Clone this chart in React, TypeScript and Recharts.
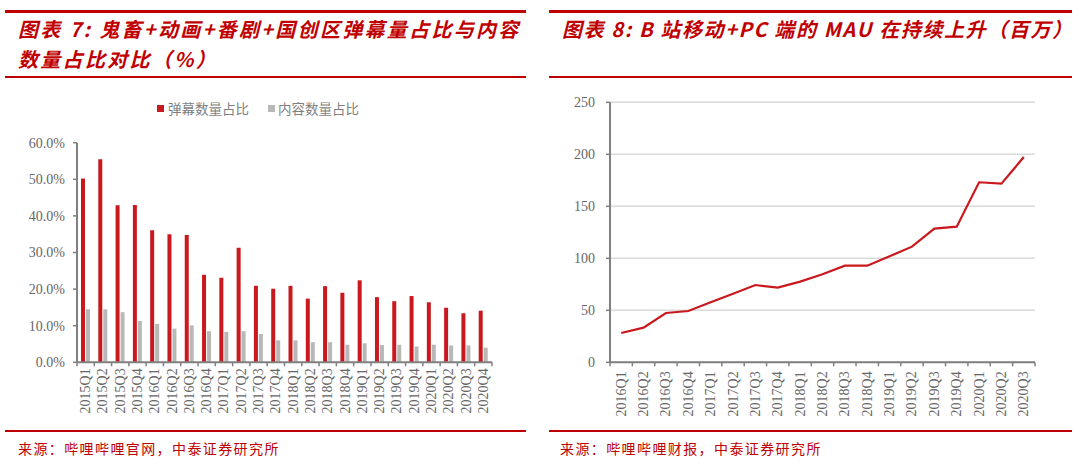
import React from 'react';
import {
  BarChart, Bar, LineChart, Line, XAxis, YAxis, CartesianGrid, Legend,
} from 'recharts';

// ---------- data ----------
const QUARTERS_L = [
  '2015Q1', '2015Q2', '2015Q3', '2015Q4',
  '2016Q1', '2016Q2', '2016Q3', '2016Q4',
  '2017Q1', '2017Q2', '2017Q3', '2017Q4',
  '2018Q1', '2018Q2', '2018Q3', '2018Q4',
  '2019Q1', '2019Q2', '2019Q3', '2019Q4',
  '2020Q1', '2020Q2', '2020Q3', '2020Q4',
];
const DANMU_SHARE = [
  50.2, 55.5, 42.9, 43.0, 36.1, 35.0, 34.8, 23.9,
  23.1, 31.3, 20.9, 20.1, 20.9, 17.4, 20.8, 19.0,
  22.4, 17.8, 16.7, 18.1, 16.4, 14.9, 13.4, 14.1,
];
const CONTENT_SHARE = [
  14.5, 14.5, 13.7, 11.3, 10.5, 9.2, 10.1, 8.5,
  8.3, 8.5, 7.7, 6.0, 6.0, 5.5, 5.5, 4.8,
  5.2, 4.7, 4.8, 4.3, 4.8, 4.6, 4.6, 4.0,
];
const Y_TICKS_L = [0, 10, 20, 30, 40, 50, 60];
const SERIES_L = ['弹幕数量占比', '内容数量占比'];

const QUARTERS_R = [
  '2016Q1', '2016Q2', '2016Q3', '2016Q4',
  '2017Q1', '2017Q2', '2017Q3', '2017Q4',
  '2018Q1', '2018Q2', '2018Q3', '2018Q4',
  '2019Q1', '2019Q2', '2019Q3', '2019Q4',
  '2020Q1', '2020Q2', '2020Q3',
];
const MAU = [
  28.2, 33.3, 47.4, 49.3, 57.7, 66.0, 74.3, 71.8,
  77.6, 84.6, 92.9, 92.9, 101.9, 111.2, 128.5, 130.4,
  173.1, 171.8, 197.4,
];
const Y_TICKS_R = [0, 50, 100, 150, 200, 250];

const TITLE_L1 = '图表 7: 鬼畜+动画+番剧+国创区弹幕量占比与内容';
const TITLE_L2 = '数量占比对比（%）';
const TITLE_R = '图表 8: B 站移动+PC 端的 MAU 在持续上升（百万）';
const SOURCE_L = '来源：哔哩哔哩官网，中泰证券研究所';
const SOURCE_R = '来源：哔哩哔哩财报，中泰证券研究所';

// ---------- styles ----------
const RED = '#C00000';
const BAR_RED = '#C9191E';
const BAR_GRAY = '#B8B8B8';
const AXIS = '#808080';
const LABEL = '#666666';
const SERIF = '"Liberation Serif", "DejaVu Serif", serif';
const CJK = '"Noto Sans CJK SC", "Noto Sans", sans-serif';

const leftData = QUARTERS_L.map((q, i) => ({ q, danmu: DANMU_SHARE[i], content: CONTENT_SHARE[i] }));
const rightData = QUARTERS_R.map((q, i) => ({ q, mau: MAU[i] }));

const CatTick = (props: any) => {
  const { x, y, payload, count, gap } = props;
  let off = payload && payload.offset ? payload.offset : 0;
  if (!off && props.width) off = props.width / count / 2;
  const idx = props.index != null ? props.index : payload.index;
  return (
    <g>
      <line x1={x - off} y1={y} x2={x - off} y2={y + 4} stroke={AXIS} strokeWidth={1.5} />
      {idx === count - 1 && (
        <line x1={x + off} y1={y} x2={x + off} y2={y + 4} stroke={AXIS} strokeWidth={1.5} />
      )}
      <text
        x={0}
        y={0}
        transform={`translate(${x},${y + gap}) rotate(-90)`}
        textAnchor="end"
        dominantBaseline="central"
        fontFamily={SERIF}
        fontSize={14}
        fill={LABEL}
      >
        {payload.value}
      </text>
    </g>
  );
};

const LegendContent = () => (
  <div style={{ display: 'flex', alignItems: 'center', fontFamily: CJK, fontSize: 13.5, color: '#7F7F7F' }}>
    <span style={{ width: 7, height: 7, background: BAR_RED, display: 'inline-block', marginRight: 4 }} />
    <span style={{ marginRight: 19 }}>{SERIES_L[0]}</span>
    <span style={{ width: 7, height: 7, background: BAR_GRAY, display: 'inline-block', marginRight: 3 }} />
    <span>{SERIES_L[1]}</span>
  </div>
);

const titleStyle: React.CSSProperties = {
  position: 'absolute',
  fontFamily: CJK,
  fontWeight: 700,
  fontStyle: 'italic',
  fontSize: 20,
  letterSpacing: 1.6,
  color: RED,
  whiteSpace: 'nowrap',
  lineHeight: '20px',
};
const sourceStyle: React.CSSProperties = {
  position: 'absolute',
  fontFamily: CJK,
  fontSize: 14,
  letterSpacing: 1.4,
  color: RED,
  whiteSpace: 'nowrap',
  lineHeight: '14px',
};

const Rule = ({ x, y, w, h }: { x: number; y: number; w: number; h: number }) => (
  <div style={{ position: 'absolute', left: x, top: y, width: w, height: h, background: RED }} />
);

export default function App() {
  return (
    <div style={{ position: 'absolute', left: 0, top: 0, width: 1080, height: 468, background: '#fff', overflow: 'hidden' }}>
      {/* ---------- left panel ---------- */}
      <Rule x={5} y={10} w={521} h={3} />
      <div style={{ ...titleStyle, left: 18, top: 19, letterSpacing: 2.3 }}>{TITLE_L1}</div>
      <div style={{ ...titleStyle, left: 18, top: 49, letterSpacing: 2.3 }}>{TITLE_L2}</div>
      <Rule x={5} y={76} w={521} h={1.5} />
      <div style={{ position: 'absolute', left: 5, top: 90 }}>
        <BarChart
          width={521}
          height={340}
          data={leftData}
          margin={{ top: 52.7, right: 34, bottom: 7.7, left: 0 }}
          barSize={4}
          barGap={1}
        >
          <Legend
            layout="horizontal"
            verticalAlign="middle"
            align="center"
            wrapperStyle={{ top: 8, left: 152, width: 260 }}
            content={<LegendContent />}
          />
          <XAxis
            dataKey="q"
            axisLine={{ stroke: AXIS, strokeWidth: 2 }}
            tickLine={false}
            tickSize={0}
            tickMargin={0}
            interval={0}
            height={60}
            tick={(p: any) => <CatTick {...p} count={QUARTERS_L.length} gap={6} />}
          />
          <YAxis
            width={72}
            domain={[0, 60]}
            ticks={Y_TICKS_L}
            interval={0}
            axisLine={{ stroke: AXIS, strokeWidth: 2 }}
            tickLine={{ stroke: AXIS, strokeWidth: 1.5 }}
            tickSize={4}
            tickMargin={8}
            tick={{ fontFamily: SERIF, fontSize: 14, fill: LABEL }}
            tickFormatter={(v: number) => `${v.toFixed(1)}%`}
          />
          <Bar dataKey="danmu" name={SERIES_L[0]} fill={BAR_RED} isAnimationActive={false} />
          <Bar dataKey="content" name={SERIES_L[1]} fill={BAR_GRAY} isAnimationActive={false} />
        </BarChart>
      </div>
      <Rule x={5} y={430} w={521} h={1.5} />
      <div style={{ ...sourceStyle, left: 18, top: 441 }}>{SOURCE_L}</div>

      {/* ---------- right panel ---------- */}
      <Rule x={549} y={10} w={523} h={3} />
      <div style={{ ...titleStyle, left: 562, top: 19 }}>{TITLE_R}</div>
      <Rule x={549} y={76} w={523} h={1.5} />
      <div style={{ position: 'absolute', left: 549, top: 90 }}>
        <LineChart
          width={523}
          height={340}
          data={rightData}
          margin={{ top: 12.3, right: 37, bottom: 7.7, left: 0 }}
        >
          <CartesianGrid vertical={false} horizontal stroke="#D9D9D9" strokeWidth={1.5} />
          <XAxis
            dataKey="q"
            scale="band"
            axisLine={{ stroke: AXIS, strokeWidth: 2 }}
            tickLine={false}
            tickSize={0}
            tickMargin={0}
            interval={0}
            height={60}
            tick={(p: any) => <CatTick {...p} count={QUARTERS_R.length} gap={9} />}
          />
          <YAxis
            width={61}
            domain={[0, 250]}
            ticks={Y_TICKS_R}
            interval={0}
            axisLine={{ stroke: AXIS, strokeWidth: 2 }}
            tickLine={{ stroke: AXIS, strokeWidth: 1.5 }}
            tickSize={4}
            tickMargin={11}
            tick={{ fontFamily: SERIF, fontSize: 14, fill: LABEL }}
          />
          <Line
            dataKey="mau"
            type="linear"
            stroke={BAR_RED}
            strokeWidth={2.2}
            dot={false}
            isAnimationActive={false}
          />
        </LineChart>
      </div>
      <Rule x={549} y={430} w={523} h={1.5} />
      <div style={{ ...sourceStyle, left: 560, top: 441 }}>{SOURCE_R}</div>
    </div>
  );
}
